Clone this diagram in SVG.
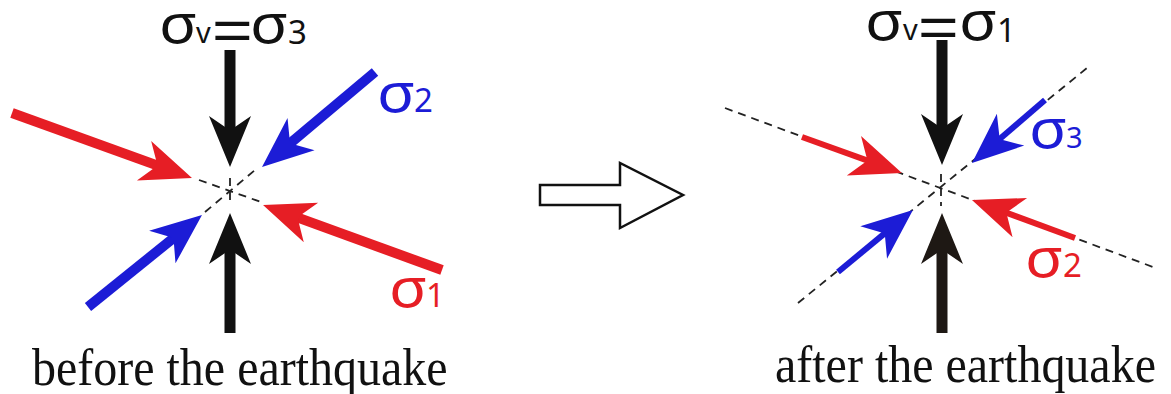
<svg xmlns="http://www.w3.org/2000/svg" width="1171" height="394" viewBox="0 0 1171 394">
<style>
.sig{font-family:"Noto Sans","DejaVu Sans",sans-serif;font-size:55px;font-weight:400}
.sub{font-family:"Noto Sans","DejaVu Sans",sans-serif;font-size:33px}
.v{font-family:"Noto Sans","DejaVu Sans",sans-serif;font-size:29px}
.eq{font-family:"Liberation Sans",Arial,sans-serif;font-size:58px}
.cap{font-family:"Liberation Serif","Times New Roman",serif;font-size:48px;fill:#111}
.red{fill:#e61e25}.blue{fill:#1c1cd6}.blk{fill:#111}
.dash{stroke:#222;stroke-width:1.8;stroke-dasharray:8 6;fill:none}
.shaft{fill:none;stroke-linecap:butt}
</style>
<defs>
<marker id="hk" markerUnits="userSpaceOnUse" orient="auto" markerWidth="80" markerHeight="60" viewBox="-30 -30 80 60" refX="0" refY="0" overflow="visible"><path d="M32 0 L-19 -21 L-6 -2 L-6 2 L-19 21 Z" fill="#111"/></marker>
<marker id="hk2" markerUnits="userSpaceOnUse" orient="auto" markerWidth="80" markerHeight="60" viewBox="-30 -30 80 60" refX="0" refY="0" overflow="visible"><path d="M32 0 L-19 -21 L-6 -2 L-6 2 L-19 21 Z" fill="#1e1814"/></marker>
<marker id="hr" markerUnits="userSpaceOnUse" orient="auto" markerWidth="80" markerHeight="60" viewBox="-30 -30 80 60" refX="0" refY="0" overflow="visible"><path d="M32 0 L-19 -21 L-6 -2 L-6 2 L-19 21 Z" fill="#e61e25"/></marker>
<marker id="hb" markerUnits="userSpaceOnUse" orient="auto" markerWidth="80" markerHeight="60" viewBox="-30 -30 80 60" refX="0" refY="0" overflow="visible"><path d="M32 0 L-19 -21 L-6 -2 L-6 2 L-19 21 Z" fill="#1c1cd6"/></marker>
</defs>
<rect width="1171" height="394" fill="#fff"/>

<g id="connectors">
  <g id="left-dashes">
    <line class="dash" x1="199" y1="180" x2="261" y2="202"/>
    <line class="dash" x1="205" y1="212" x2="255" y2="170"/>
    <line class="dash" x1="230" y1="178" x2="230" y2="205"/>
  </g>
  <line class="shaft" x1="230" y1="50" x2="230" y2="135" stroke="#111" stroke-width="11" marker-end="url(#hk)"/>
  <line class="shaft" x1="230" y1="333" x2="230" y2="245" stroke="#111" stroke-width="11" marker-end="url(#hk)"/>
  <line class="shaft" x1="12" y1="113" x2="161.9" y2="167.1" stroke="#e61e25" stroke-width="10" marker-end="url(#hr)"/>
  <line class="shaft" x1="442" y1="270" x2="293.1" y2="215.9" stroke="#e61e25" stroke-width="10" marker-end="url(#hr)"/>
  <line class="shaft" x1="375" y1="72" x2="286.5" y2="146.4" stroke="#1c1cd6" stroke-width="10" marker-end="url(#hb)"/>
  <line class="shaft" x1="88" y1="307" x2="177.1" y2="235.1" stroke="#1c1cd6" stroke-width="10" marker-end="url(#hb)"/>

  <g id="right-dashes">
    <line class="dash" x1="725" y1="108" x2="1153" y2="267"/>
    <line class="dash" x1="798" y1="303" x2="1087" y2="68"/>
    <line class="dash" x1="941" y1="174" x2="941" y2="206"/>
  </g>
  <line class="shaft" x1="942" y1="40" x2="942" y2="133" stroke="#111" stroke-width="11" marker-end="url(#hk)"/>
  <line class="shaft" x1="942" y1="333" x2="942" y2="245" stroke="#1e1814" stroke-width="11" marker-end="url(#hk2)"/>
  <line class="shaft" x1="802" y1="137" x2="871.8" y2="162.1" stroke="#e61e25" stroke-width="6" marker-end="url(#hr)"/>
  <line class="shaft" x1="1075" y1="238" x2="1002" y2="211.1" stroke="#e61e25" stroke-width="6" marker-end="url(#hr)"/>
  <line class="shaft" x1="1045" y1="100" x2="996.2" y2="142.1" stroke="#1c1cd6" stroke-width="6" marker-end="url(#hb)"/>
  <line class="shaft" x1="838" y1="272" x2="888.3" y2="230.4" stroke="#1c1cd6" stroke-width="6" marker-end="url(#hb)"/>
</g>

<g id="transition-arrow">
  <polygon points="540,185 620,185 620,163 683,195 620,228 620,205 540,205" fill="#fff" stroke="#111" stroke-width="2.5" stroke-linejoin="miter"/>
</g>

<g id="label-left-top" class="blk">
  <text class="sig" transform="translate(159,43) scale(1.13,1)">σ</text>
  <text class="v" x="196" y="43">v</text>
  <text class="eq" transform="translate(212,50) scale(1.2,1)">=</text>
  <text class="sig" transform="translate(250,43) scale(1.13,1)">σ</text>
  <text class="sub" x="288" y="44">3</text>
</g>
<g id="label-left-s2" class="blue">
  <text class="sig" transform="translate(377,112) scale(1.13,1)">σ</text>
  <text class="sub" x="414" y="112">2</text>
</g>
<g id="label-left-s1" class="red">
  <text class="sig" transform="translate(389,307) scale(1.13,1)">σ</text>
  <text class="sub" x="426" y="307">1</text>
</g>
<g id="caption-left">
  <text class="cap" transform="translate(32,385) scale(1,1.08)">before the earthquake</text>
</g>

<g id="label-right-top" class="blk">
  <text class="sig" transform="translate(865,40) scale(1.13,1)">σ</text>
  <text class="v" x="903" y="40">v</text>
  <text class="eq" transform="translate(918,47) scale(1.2,1)">=</text>
  <text class="sig" transform="translate(959,40) scale(1.13,1)">σ</text>
  <text class="sub" x="997" y="42">1</text>
</g>
<g id="label-right-s3" class="blue">
  <text class="sig" transform="translate(1029,148) scale(1.13,1)">σ</text>
  <text class="sub" x="1066" y="148" style="font-size:29px">3</text>
</g>
<g id="label-right-s2" class="red">
  <text class="sig" transform="translate(1025,277) scale(1.13,1)">σ</text>
  <text class="sub" x="1063" y="277">2</text>
</g>
<g id="caption-right">
  <text class="cap" transform="translate(775,382) scale(1,1.08)">after the earthquake</text>
</g>
</svg>
